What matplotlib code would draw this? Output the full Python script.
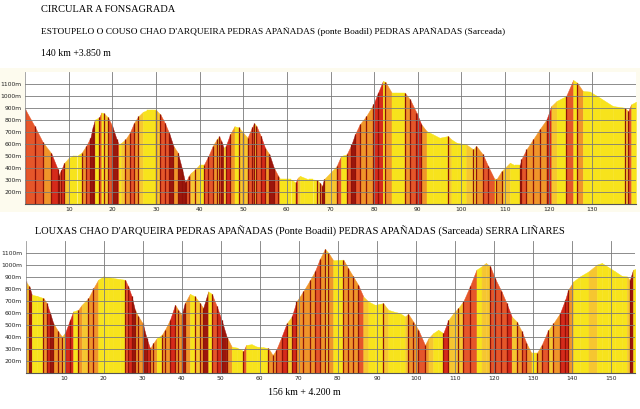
import numpy as np
import matplotlib
matplotlib.use("Agg")
import matplotlib.pyplot as plt
from matplotlib.patches import Rectangle

# elevation profile, route 1 (km, m)
top_km = [0, 2.2, 4.1, 6, 7.5, 7.7, 8.3, 9, 10, 11, 12, 13, 14, 15, 15.5, 16, 17, 17.5,
          18, 19, 20, 21, 21.5, 22, 23, 24, 25, 26, 27, 28, 29, 30, 31, 32, 33, 34, 35,
          36, 36.7, 37, 37.5, 38, 39, 40, 41, 42, 43, 44, 44.5, 45, 45.5, 46, 47, 48, 49,
          50, 51, 52, 52.5, 53, 54, 55, 56, 57, 58, 58.5, 59, 60, 61, 62, 62.5, 63, 64,
          65, 66, 67, 67.5, 68.1, 68.5, 71.4, 72.4, 73.7, 74.8, 75.6, 76.7, 78.2, 79.8,
          80.9, 82.0, 82.6, 84.0, 85.1, 87.0, 88.2, 89.7, 90.8, 92.0, 93.5, 95.0, 96.9,
          97.7, 98.9, 101.1, 102.7, 103.4, 104.9, 106.1, 107.6, 108.0, 109.2, 111.1,
          112.3, 113.4, 113.7, 114.9, 116.4, 117.9, 119.5, 120.6, 121.8, 124.0, 125.6,
          126.5, 127.8, 129.4, 131.7, 134.7, 137.4, 138.2, 138.9, 140.0]
top_elev = [895, 750, 615, 525, 390, 345, 385, 445, 485, 505, 505, 530, 585, 655, 740,
            805, 825, 865, 860, 825, 750, 640, 600, 610, 640, 695, 780, 835, 870, 885,
            885, 885, 850, 780, 695, 585, 530, 390, 280, 295, 335, 360, 390, 430, 430,
            500, 585, 645, 665, 625, 570, 585, 685, 750, 740, 695, 655, 740, 775, 755,
            670, 570, 515, 405, 335, 305, 305, 305, 305, 280, 320, 335, 320, 305, 305,
            300, 279, 251, 307, 417, 501, 515, 598, 682, 766, 836, 933, 1031, 1128, 1120,
            1031, 1031, 1031, 975, 864, 766, 710, 682, 654, 668, 640, 612, 598, 557, 585,
            515, 417, 306, 306, 375, 445, 423, 423, 473, 557, 640, 724, 807, 919, 961,
            1003, 1137, 1115, 1045, 1040, 989, 919, 905, 877, 933, 955]

# elevation profile, route 2 (km, m)
bot_km = [0, 1.0, 1.6, 2.9, 4.6, 5.4, 6.3, 7.1, 8.4, 9.3, 10.1, 11.4, 12.2, 13.5, 14.4,
          16.1, 17.4, 18.6, 19.9, 21.2, 22.5, 24.2, 25.5, 26.3, 27.2, 28.0, 28.9, 30.0,
          31.0, 31.9, 32.7, 33.6, 34.9, 35.7, 37.0, 38.3, 39.1, 40.0, 40.8, 42.1, 43.4,
          44.7, 45.5, 46.8, 47.7, 49.0, 50.2, 51.5, 52.8, 54.1, 55.8, 56.5, 57.9, 59.2,
          60.9, 62.2, 63.3, 64.2, 65.6, 66.9, 68.2, 69.4, 71.1, 72.9, 74.1, 75.4, 76.7,
          77.6, 78.8, 81.4, 82.6, 83.9, 85.2, 86.5, 87.8, 89.5, 91.6, 92.9, 94.2, 95.9,
          97.2, 98.0, 99.3, 100.6, 102.3, 103.2, 104.4, 105.7, 107.0, 108.3, 109.6,
          110.8, 112.1, 113.8, 115.5, 116.8, 117.9, 119.0, 120.2, 121.9, 123.2, 124.5,
          125.8, 127.1, 128.3, 129.6, 130.9, 132.2, 133.9, 135.2, 136.9, 138.2, 139.0,
          140.3, 142.0, 144.2, 146.3, 147.6, 149.2, 151.0, 152.7, 154.0, 154.8, 155.6,
          156.2]
bot_elev = [863, 821, 752, 743, 724, 682, 599, 515, 446, 404, 432, 543, 613, 627, 668,
            724, 808, 877, 905, 900, 891, 883, 877, 821, 738, 627, 571, 515, 390, 306,
            348, 390, 418, 460, 543, 668, 627, 585, 682, 760, 738, 682, 641, 780, 760,
            655, 543, 404, 320, 312, 284, 334, 340, 320, 315, 306, 250, 292, 404, 515,
            571, 696, 780, 877, 947, 1052, 1134, 1101, 1040, 1045, 975, 905, 835, 738,
            696, 668, 682, 627, 613, 599, 571, 593, 529, 460, 334, 390, 432, 460, 432,
            543, 599, 641, 696, 821, 961, 989, 1017, 989, 891, 780, 682, 571, 529, 446,
            348, 264, 264, 334, 460, 515, 599, 710, 794, 863, 905, 947, 1003, 1017, 984,
            947, 910, 905, 877, 961, 966]

top_ticks = list(range(10, 140, 10))
bot_ticks = list(range(10, 160, 10))
elev_ticks = list(range(200, 1200, 100))

title = "CIRCULAR A FONSAGRADA"
route1 = "ESTOUPELO O COUSO CHAO D'ARQUEIRA PEDRAS APAÑADAS (ponte Boadil) PEDRAS APAÑADAS (Sarceada)"
route1_total = "140 km +3.850 m"
route2 = "LOUXAS CHAO D'ARQUEIRA PEDRAS APAÑADAS (Ponte Boadil) PEDRAS APAÑADAS (Sarceada) SERRA LIÑARES"
route2_total = "156 km + 4.200 m"

grade_edges = [2.5, 4.5, 6.5, 8.5, 10.5]
grade_colors = ["#f7e31c", "#f6c630", "#f0952a", "#e5562a", "#d52a1a", "#9c160c"]

W, H = 640, 409


def draw_profile(ax, km, elev, xmax, xticks):
    km = np.asarray(km, float)
    elev = np.asarray(elev, float)
    grades = np.abs(np.diff(elev)) / (np.diff(km) * 1000) * 100
    for i, grade in enumerate(grades):
        c = grade_colors[np.searchsorted(grade_edges, grade)]
        ax.fill_between(km[i:i + 2], 100, elev[i:i + 2], color=c, lw=0.3,
                        edgecolor=c, zorder=1)
    # thin dark stripes where the climb is steep
    steep = grades >= 3.5
    ax.vlines(km[:-1][steep], 100, elev[:-1][steep], color="#8e1208", lw=0.9, zorder=1.5)
    ax.set_xlim(0, xmax)
    ax.set_ylim(100, 1200)
    ax.set_xticks(xticks)
    ax.set_xticklabels([str(t) for t in xticks])
    ax.set_yticks(elev_ticks)
    ax.set_yticklabels([f"{t}m" for t in elev_ticks])
    ax.tick_params(length=0, labelsize=4.3, pad=2.5, colors="#222222")
    ax.grid(True, color="#7a7a7a", lw=0.6)
    ax.set_axisbelow(False)
    for s in ["top", "right"]:
        ax.spines[s].set_visible(False)
    ax.spines["left"].set_color("#999999")
    ax.spines["left"].set_linewidth(0.6)
    ax.spines["bottom"].set_color("#555555")
    ax.spines["bottom"].set_linewidth(0.8)
    ax.set_facecolor("white")


fig = plt.figure(figsize=(6.4, 4.09), dpi=100)
fig.patch.set_facecolor("white")

# cream panel behind the first profile
fig.patches.append(Rectangle((0, 1 - 212 / H), 1, (212 - 68) / H, transform=fig.transFigure,
                             facecolor="#fdfbee", edgecolor="none", zorder=-1))

ax1 = fig.add_axes([25 / W, (H - 204) / H, (636 - 25) / W, 131.6 / H])
draw_profile(ax1, top_km, top_elev, 140, top_ticks)

ax2 = fig.add_axes([25.5 / W, (H - 373) / H, (635 - 25.5) / W, 132 / H])
draw_profile(ax2, bot_km, bot_elev, 156.1, bot_ticks)

serif = "Liberation Serif"
fig.text(41 / W, 1 - 10 / H, title, family=serif, fontsize=7.5, va="center", ha="left")
fig.text(41 / W, 1 - 31.5 / H, route1, family=serif, fontsize=6.75, va="center", ha="left")
fig.text(41 / W, 1 - 54 / H, route1_total, family=serif, fontsize=7, va="center", ha="left")
fig.text(35 / W, 1 - 231.5 / H, route2, family=serif, fontsize=7.45, va="center", ha="left")
fig.text(304 / W, 1 - 392.5 / H, route2_total, family=serif, fontsize=7.1, va="center",
         ha="center")

fig.savefig("out.png", dpi=100, facecolor="white")
